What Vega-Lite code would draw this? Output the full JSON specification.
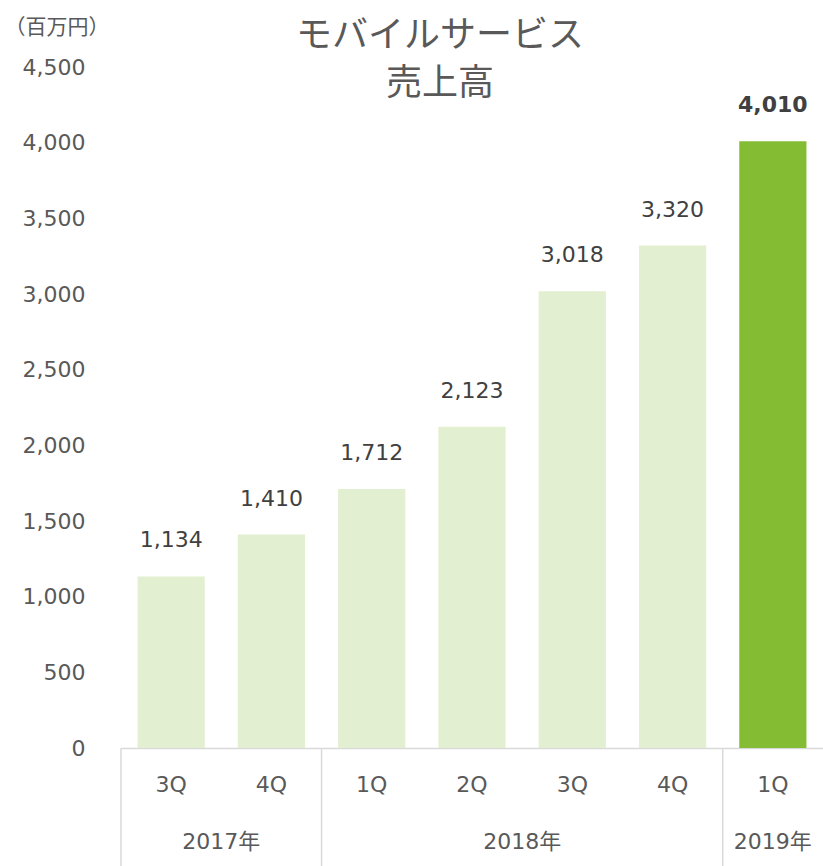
{
  "$schema": "https://vega.github.io/schema/vega-lite/v6.json",
  "width": 702,
  "height": 681,
  "autosize": {"type": "none"},
  "padding": {"left": 121, "top": 67, "right": 0, "bottom": 118},
  "background": "white",
  "config": {
    "view": {"stroke": null},
    "font": "DejaVu Sans"
  },
  "title": {
    "text": ["モバイルサービス", "売上高"],
    "font": "Noto Sans CJK JP",
    "fontSize": 36,
    "fontWeight": "normal",
    "color": "#595959",
    "lineHeight": 48,
    "anchor": "middle",
    "frame": "group",
    "dx": -32,
    "dy": 87,
    "baseline": "top",
    "offset": 0
  },
  "datasets": {
    "sales": [
      {"key": "2017-3Q", "value": 1134, "highlight": "no"},
      {"key": "2017-4Q", "value": 1410, "highlight": "no"},
      {"key": "2018-1Q", "value": 1712, "highlight": "no"},
      {"key": "2018-2Q", "value": 2123, "highlight": "no"},
      {"key": "2018-3Q", "value": 3018, "highlight": "no"},
      {"key": "2018-4Q", "value": 3320, "highlight": "no"},
      {"key": "2019-1Q", "value": 4010, "highlight": "yes"}
    ],
    "years": [
      {"year": "2017年", "anchor": "2017-4Q", "pos": "edge"},
      {"year": "2018年", "anchor": "2018-3Q", "pos": "edge"},
      {"year": "2019年", "anchor": "2019-1Q", "pos": "center"}
    ],
    "seps": [
      {"anchor": "2017-3Q"},
      {"anchor": "2018-1Q"},
      {"anchor": "2019-1Q"}
    ]
  },
  "layer": [
    {
      "data": {"name": "sales"},
      "mark": {"type": "bar", "width": {"band": 0.67}},
      "encoding": {
        "x": {
          "field": "key",
          "type": "nominal",
          "sort": null,
          "scale": {
            "domain": ["2017-3Q", "2017-4Q", "2018-1Q", "2018-2Q", "2018-3Q", "2018-4Q", "2019-1Q"],
            "paddingInner": 0,
            "paddingOuter": 0
          },
          "axis": {
            "title": null,
            "orient": "bottom",
            "labelAngle": 0,
            "labelExpr": "split(datum.label, '-')[1]",
            "labelFont": "DejaVu Sans",
            "labelFontSize": 22,
            "labelColor": "#595959",
            "labelPadding": 26,
            "ticks": false,
            "domain": true,
            "domainColor": "#d9d9d9",
            "domainWidth": 1.5
          }
        },
        "y": {
          "field": "value",
          "type": "quantitative",
          "scale": {"domain": [0, 4500], "nice": false},
          "axis": {
            "values": [0, 500, 1000, 1500, 2000, 2500, 3000, 3500, 4000, 4500],
            "labelExpr": "format(datum.value, ',')",
            "grid": false,
            "domain": false,
            "ticks": false,
            "labelFont": "DejaVu Sans",
            "labelFontSize": 22,
            "labelColor": "#595959",
            "labelPadding": 36,
            "title": "（百万円）",
            "titleFont": "Noto Sans CJK JP",
            "titleFontSize": 21,
            "titleFontWeight": "normal",
            "titleColor": "#595959",
            "titleAngle": 0,
            "titleAlign": "left",
            "titleBaseline": "middle",
            "titleX": -117,
            "titleY": -40
          }
        },
        "color": {
          "field": "highlight",
          "type": "nominal",
          "scale": {"domain": ["no", "yes"], "range": ["#e2efd0", "#84bd34"]},
          "legend": null
        }
      }
    },
    {
      "data": {"name": "sales"},
      "transform": [{"filter": "datum.highlight === 'no'"}],
      "mark": {"type": "text", "baseline": "middle", "dy": -36, "fontSize": 22, "font": "DejaVu Sans", "fontWeight": "normal", "color": "#404040"},
      "encoding": {
        "x": {"field": "key", "type": "nominal", "sort": null},
        "y": {"field": "value", "type": "quantitative"},
        "text": {"field": "value", "type": "quantitative", "format": ","}
      }
    },
    {
      "data": {"name": "sales"},
      "transform": [{"filter": "datum.highlight === 'yes'"}],
      "mark": {"type": "text", "baseline": "middle", "dy": -36, "fontSize": 22, "font": "DejaVu Sans", "fontWeight": "bold", "color": "#404040"},
      "encoding": {
        "x": {"field": "key", "type": "nominal", "sort": null},
        "y": {"field": "value", "type": "quantitative"},
        "text": {"field": "value", "type": "quantitative", "format": ","}
      }
    },
    {
      "data": {"name": "years"},
      "transform": [{"filter": "datum.pos === 'edge'"}],
      "mark": {"type": "text", "baseline": "middle", "dy": 94, "fontSize": 22, "font": "DejaVu Sans, Noto Sans CJK JP", "color": "#595959"},
      "encoding": {
        "x": {"field": "anchor", "type": "nominal", "sort": null, "bandPosition": 0},
        "y": {"datum": 0, "type": "quantitative"},
        "text": {"field": "year"}
      }
    },
    {
      "data": {"name": "years"},
      "transform": [{"filter": "datum.pos === 'center'"}],
      "mark": {"type": "text", "baseline": "middle", "dy": 94, "fontSize": 22, "font": "DejaVu Sans, Noto Sans CJK JP", "color": "#595959"},
      "encoding": {
        "x": {"field": "anchor", "type": "nominal", "sort": null, "bandPosition": 0.5},
        "y": {"datum": 0, "type": "quantitative"},
        "text": {"field": "year"}
      }
    },
    {
      "data": {"name": "seps"},
      "mark": {"type": "rule", "color": "#d9d9d9", "strokeWidth": 1.5},
      "encoding": {
        "x": {"field": "anchor", "type": "nominal", "sort": null, "bandPosition": 0},
        "y": {"datum": 0, "type": "quantitative"},
        "y2": {"datum": -800}
      }
    }
  ]
}
